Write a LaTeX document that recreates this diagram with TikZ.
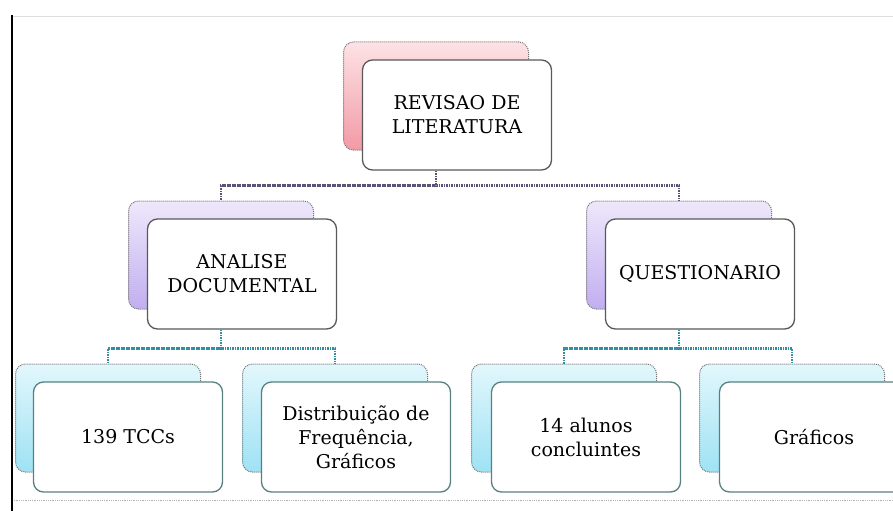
\documentclass[tikz,border=0pt]{standalone}
\usepackage{fontspec}
\setmainfont{DejaVu Serif}
\usetikzlibrary{backgrounds}

\definecolor{pinkhi}{HTML}{FDE2E5}
\definecolor{pinklo}{HTML}{F29AA6}
\definecolor{lavhi}{HTML}{EEE8FB}
\definecolor{lavlo}{HTML}{C2AEF0}
\definecolor{cyanhi}{HTML}{E2F7FC}
\definecolor{cyanlo}{HTML}{9EE2F4}
\definecolor{toplinkcol}{HTML}{5B5277}
\definecolor{sublinkcol}{HTML}{2F8FA3}

\tikzset{
  backbox/.style={minimum width=185pt, minimum height=108pt, rounded corners=10pt,
    draw=black!55, densely dotted, line width=1pt},
  frontbox/.style={minimum width=189pt, minimum height=110pt, rounded corners=10pt,
    draw=black!65, fill=white, line width=1.3pt, solid, align=center,
    font=\fontsize{19}{24}\selectfont},
  leafbox/.style={frontbox, draw=gray!70!teal},
  rootlink/.style={draw=toplinkcol, line width=2.4pt, dash pattern=on 1.6pt off 0.9pt},
  sublink/.style={draw=sublinkcol, line width=2.4pt, dash pattern=on 1.6pt off 0.9pt}
}

\begin{document}
\begin{tikzpicture}[x=1pt,y=-1pt]
\clip (0,0) rectangle (893,511);

% moldura
\draw[gray!25, line width=1pt] (12,17) -- (893,17);
\draw[gray!60, densely dotted, line width=0.8pt] (12,500) -- (893,500);
\draw[black, line width=2pt] (12,15) -- (12,511);

% nivel 1
\node[backbox, top color=pinkhi, bottom color=pinklo] (revb) at (436,96) {};
\node[frontbox] (revf) at (457,115) {REVISAO DE\\LITERATURA};

% nivel 2
\node[backbox, top color=lavhi, bottom color=lavlo] (anab) at (221,255) {};
\node[frontbox] (anaf) at (242,274) {ANALISE\\DOCUMENTAL};
\node[backbox, top color=lavhi, bottom color=lavlo] (queb) at (679,255) {};
\node[frontbox] (quef) at (700,274) {QUESTIONARIO};

% nivel 3
\node[backbox, top color=cyanhi, bottom color=cyanlo] (tccb) at (108,418) {};
\node[leafbox] (tccf) at (128,437) {139 TCCs};
\node[backbox, top color=cyanhi, bottom color=cyanlo] (disb) at (335,418) {};
\node[leafbox] (disf) at (356,437) {Distribuição de\\Frequência,\\Gráficos};
\node[backbox, top color=cyanhi, bottom color=cyanlo] (alub) at (564,418) {};
\node[leafbox] (aluf) at (586,437) {14 alunos\\concluintes};
\node[backbox, top color=cyanhi, bottom color=cyanlo] (grab) at (792,418) {};
\node[leafbox] (graf) at (814,437) {Gráficos};

\begin{scope}[on background layer]
\draw[rootlink] (revb.south |- revf.south) -- ++(0,15) -| (anab.north);
\draw[rootlink] (revb.south |- revf.south) -- ++(0,15) -| (queb.north);
\draw[sublink] (anab.south |- anaf.south) -- ++(0,19) -| (tccb.north);
\draw[sublink] (anab.south |- anaf.south) -- ++(0,19) -| (disb.north);
\draw[sublink] (queb.south |- quef.south) -- ++(0,19) -| (alub.north);
\draw[sublink] (queb.south |- quef.south) -- ++(0,19) -| (grab.north);
\end{scope}
\end{tikzpicture}
\end{document}
